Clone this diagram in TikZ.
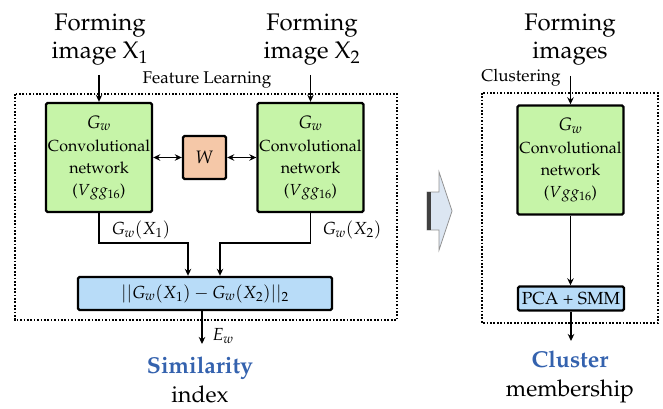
\documentclass[tikz,border=0pt]{standalone}
\usepackage[T1]{fontenc}
\usepackage{mathpazo}
\usetikzlibrary{arrows.meta}

\definecolor{cnngreen}{HTML}{C6F4A8}
\definecolor{worange}{HTML}{F5C8A8}
\definecolor{distblue}{HTML}{B8DCF8}
\definecolor{titleblue}{HTML}{3462AE}
\definecolor{bigarrow}{HTML}{DCE6F2}

\newcommand{\cnntext}{{\fontsize{18}{22}\selectfont$G_w$}\\[1pt]Convolutional\\network\\($Vgg_{16}$)}

\tikzset{
  boxline/.style={draw, line width=2.4pt, rounded corners=1.5pt, inner sep=0pt, align=center},
  cnn/.style={boxline, fill=cnngreen, minimum width=106pt, minimum height=109pt,
    font=\fontsize{16}{22}\selectfont},
  wbox/.style={boxline, fill=worange, minimum width=43pt, minimum height=43pt,
    font=\fontsize{18}{20}\selectfont},
  distbox/.style={boxline, fill=distblue, font=\fontsize{17.5}{20}\selectfont},
  group/.style={draw, line width=2.2pt, dash pattern=on 1.7pt off 1.7pt},
  arr/.style={-{Stealth[length=7pt,width=6.5pt]}, line width=1.9pt},
  biarr/.style={{Stealth[length=7pt,width=6.5pt]}-{Stealth[length=7pt,width=6.5pt]}, line width=1.9pt},
  heading/.style={font=\fontsize{24}{28}\selectfont, align=center, inner sep=0pt},
  grouplabel/.style={font=\fontsize{17}{20}\selectfont, inner sep=0pt},
  outlabel/.style={font=\fontsize{23}{29}\selectfont, align=center, inner sep=0pt},
  flowlabel/.style={font=\fontsize{17.5}{20}\selectfont, inner sep=0pt},
}

\begin{document}
\begin{tikzpicture}[x=1pt,y=-1pt]
\useasboundingbox (0,0) rectangle (663,409);

% ---- feature learning stage ----
\draw[group] (15,94) rectangle (397,320);
\node[grouplabel] (fl) at (207,80) {Feature Learning};

\node[heading] (in1) at (100,40) {Forming\\image X$_1$};
\node[heading] (in2) at (312,40) {Forming\\image X$_2$};

\node[cnn] (g1) at (99,157.5) {\cnntext};
\node[cnn] (g2) at (310.5,157.5) {\cnntext};
\node[wbox] (w) at (204.5,157.5) {$W$};
\node[distbox, minimum width=254pt, minimum height=33pt] (d) at (205,293.5)
  {$||G_w(X_1)-G_w(X_2)||_2$};

\draw[arr] (g1.north |- 0,75) -- (g1.north);
\draw[arr] (g2.north |- 0,75) -- (g2.north);
\draw[biarr] (g1.east) -- (w.west);
\draw[biarr] (w.east) -- (g2.west);

\coordinate (j1) at (188,243);
\coordinate (j2) at (220,243);
\draw[arr] (g1.south) |- (j1) -- (j1 |- d.north);
\draw[arr] (g2.south) |- (j2) -- (j2 |- d.north);
\node[flowlabel] (l1) at (141,230) {$G_w(X_1)$};
\node[flowlabel] (l2) at (352,230) {$G_w(X_2)$};

\coordinate (e1) at (202,344);
\draw[arr] (e1 |- d.south) -- (e1);
\node[flowlabel] (ew) at (223,336) {$E_w$};

\node[outlabel] (sim) at (200,380) {\textcolor{titleblue}{\bfseries Similarity}\\index};

% ---- transition arrow ----
\draw[draw=gray!85, line width=0.8pt, fill=bigarrow]
  (427,192) -- (439,192) -- (439,172) -- (452,211) -- (439,250) -- (439,230) -- (427,230) -- cycle;
\fill[black!75] (427,192) rectangle (430.5,230);

% ---- clustering stage ----
\draw[group] (482,93) rectangle (658,323);
\node[grouplabel] (cl) at (521,78) {Clustering};
\node[heading] (in3) at (570,40) {Forming\\images};

\node[cnn] (g3) at (570.5,160) {\cnntext};
\node[distbox, minimum width=106pt, minimum height=24pt] (p) at (571,298.5) {PCA + SMM};

\draw[arr] (g3.north |- 0,76) -- (g3.north);
\draw[arr] (g3.south) -- (g3.south |- p.north);
\coordinate (e2) at (571,341);
\draw[arr] (e2 |- p.south) -- (e2);

\node[outlabel] (clu) at (570,377) {\textcolor{titleblue}{\bfseries Cluster}\\membership};
\end{tikzpicture}
\end{document}
